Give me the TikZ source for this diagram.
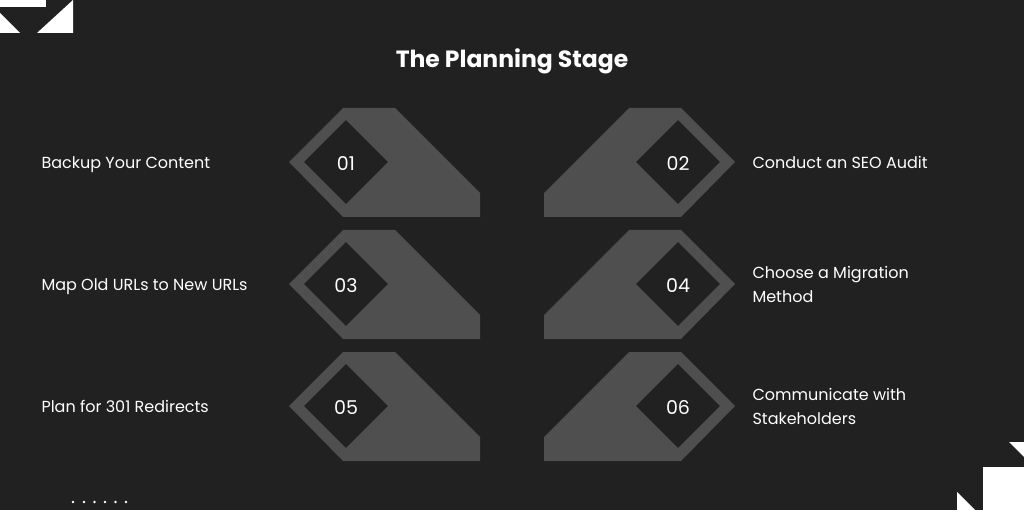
\documentclass[tikz,border=0pt]{standalone}
\usepackage{fontspec}
\setmainfont{Poppins}
\usetikzlibrary{shapes.geometric}
\definecolor{bgdark}{HTML}{212121}
\definecolor{tilegray}{HTML}{4F4F4F}

\begin{document}
\begin{tikzpicture}[x=1pt,y=-1pt,
	tile/.style={fill=tilegray},
	num/.style={diamond,fill=bgdark,minimum width=84pt,minimum height=84pt,inner sep=0pt,text height=17pt,text depth=0pt,text=white,font=\fontsize{19}{22}\selectfont},
	lbl/.style={anchor=west,text=white,align=left,font=\fontsize{16}{24}\selectfont,execute at end node={\vphantom{p}}}]
	\fill[bgdark] (0,0) rectangle (1024,510);
	\useasboundingbox (0,0) rectangle (1024,510);
	\node [text=white,font=\fontsize{23.5}{26}\selectfont\bfseries] (title) at (512,61) {The Planning Stage};
	\foreach \c/\a/\b/\la/\lb in {162/01/02/{Backup Your Content}/{Conduct an SEO Audit},
		284/03/04/{Map Old URLs to New URLs}/{Choose a Migration\\Method},
		406/05/06/{Plan for 301 Redirects}/{Communicate with\\Stakeholders}} {
		\fill[tile] (289,\c) -- (343,\c-54) -- (395,\c-54) -- (480,\c+31) -- (480,\c+55) -- (343,\c+55) -- cycle;
		\fill[tile] (735,\c) -- (681,\c-54) -- (629,\c-54) -- (544,\c+31) -- (544,\c+55) -- (681,\c+55) -- cycle;
		\node [num] (n\a) at (346,\c) {\a};
		\node [num] (n\b) at (678,\c) {\b};
		\node [lbl] (lab\a) at (38,\c+2.5) {\la};
		\node [lbl] (lab\b) at (749,\c+2.5) {\lb};
	}
	\fill[white] (0,0) rectangle (46,7);
	\fill[white] (0,13) -- (0,33) -- (20,33) -- cycle;
	\fill[white] (37,33) -- (73,0) -- (73,33) -- cycle;
	\fill[white] (1009,442) -- (1024,442) -- (1024,457) -- cycle;
	\fill[white] (983,467) rectangle (1024,510);
	\fill[white] (957,492) -- (957,510) -- (975,510) -- cycle;
	\foreach \x in {73,84,94.5,105,115.5,126}
		\fill[white] (\x,502) circle (1.3);
\end{tikzpicture}
\end{document}
